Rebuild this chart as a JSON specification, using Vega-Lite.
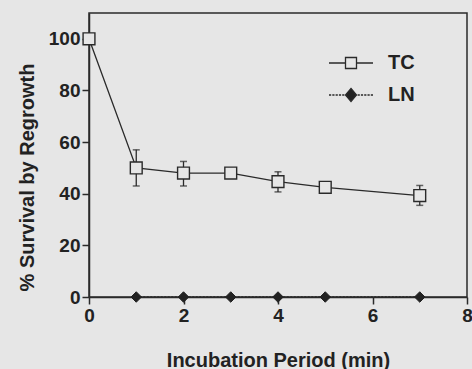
{
  "$schema": "https://vega.github.io/schema/vega-lite/v6.json",
  "autosize": "none",
  "width": 378,
  "height": 284,
  "padding": {"left": 89, "top": 13, "right": 5, "bottom": 72},
  "background": "#e6e6e6",
  "config": {
    "view": {"stroke": "#2a2a2a", "strokeWidth": 1.5},
    "font": "Liberation Sans",
    "axis": {
      "domainColor": "#2a2a2a", "domainWidth": 1.5,
      "tickColor": "#2a2a2a", "tickWidth": 1.5, "tickSize": 7,
      "labelFont": "Liberation Sans", "labelFontWeight": "bold", "labelFontSize": 19, "labelColor": "#222",
      "labelPadding": 2, "labelFlush": false,
      "titleFont": "Liberation Sans", "titleFontWeight": "bold", "titleFontSize": 20, "titleColor": "#222",
      "grid": false
    }
  },
  "datasets": {
    "tc": [
      {"t": 0, "series": "TC", "mean": 100},
      {"t": 1, "series": "TC", "mean": 50, "lo": 43, "hi": 57},
      {"t": 2, "series": "TC", "mean": 48, "lo": 43, "hi": 52.5},
      {"t": 3, "series": "TC", "mean": 48},
      {"t": 4, "series": "TC", "mean": 44.7, "lo": 40.7, "hi": 48.5},
      {"t": 5, "series": "TC", "mean": 42.5},
      {"t": 7, "series": "TC", "mean": 39.3, "lo": 35.5, "hi": 43.2}
    ],
    "ln": [
      {"t": 1, "series": "LN", "mean": 0},
      {"t": 2, "series": "LN", "mean": 0},
      {"t": 3, "series": "LN", "mean": 0},
      {"t": 4, "series": "LN", "mean": 0},
      {"t": 5, "series": "LN", "mean": 0},
      {"t": 7, "series": "LN", "mean": 0}
    ],
    "legend": [
      {"series": "TC"},
      {"series": "LN"}
    ]
  },
  "encoding": {
    "x": {"field": "t", "type": "quantitative",
      "scale": {"domain": [0, 8], "nice": false},
      "axis": {"values": [0, 2, 4, 6, 8], "title": "Incubation Period (min)",
        "titleY": 69, "titleBaseline": "alphabetic"}},
    "y": {"field": "mean", "type": "quantitative",
      "scale": {"domain": [0, 110], "nice": false},
      "axis": {"values": [0, 20, 40, 60, 80, 100], "title": "% Survival by Regrowth",
        "titleX": -56, "titleY": 164, "titleAngle": -90, "titleBaseline": "alphabetic", "titleAlign": "center"}}
  },
  "layer": [
    {
      "data": {"name": "tc"},
      "mark": {"type": "rule", "color": "#2a2a2a", "strokeWidth": 1.3},
      "encoding": {"y": {"field": "lo", "type": "quantitative"}, "y2": {"field": "hi"}}
    },
    {
      "data": {"name": "tc"},
      "mark": {"type": "tick", "orient": "horizontal", "color": "#2a2a2a", "size": 7, "thickness": 1.5},
      "encoding": {"y": {"field": "lo", "type": "quantitative"}}
    },
    {
      "data": {"name": "tc"},
      "mark": {"type": "tick", "orient": "horizontal", "color": "#2a2a2a", "size": 7, "thickness": 1.5},
      "encoding": {"y": {"field": "hi", "type": "quantitative"}}
    },
    {
      "data": {"name": "tc"},
      "mark": {"type": "line", "color": "#2a2a2a", "strokeWidth": 1.3}
    },
    {
      "data": {"name": "ln"},
      "mark": {"type": "line", "color": "#2a2a2a", "strokeWidth": 1.3, "strokeDash": [2, 1.5]}
    },
    {
      "data": {"name": "tc"},
      "mark": {"type": "point", "shape": "square", "size": 140, "filled": true, "fill": "#e6e6e6", "stroke": "#2a2a2a", "strokeWidth": 1.4, "opacity": 1}
    },
    {
      "data": {"name": "ln"},
      "mark": {"type": "point", "shape": "diamond", "size": 110, "filled": true, "fill": "#222", "stroke": "#222", "strokeWidth": 1, "opacity": 1}
    },
    {
      "data": {"name": "legend"},
      "mark": {"type": "point", "filled": true, "opacity": 0},
      "encoding": {
        "x": {"datum": 0},
        "y": {"datum": 0},
        "shape": {"field": "series", "type": "nominal",
          "scale": {"domain": ["TC", "LN"], "range": [
            "M-2,0H-0.5M0.5,0H2M-0.5,-0.5H0.5V0.5H-0.5Z",
            "M-2,0H-1.8M-1.7,0H-1.5M-1.4,0H-1.2M-1.1,0H-0.9M-0.8,0H-0.6M0.6,0H0.8M0.9,0H1.1M1.2,0H1.4M1.5,0H1.7M1.8,0H2M0,-0.6L0.5,0L0,0.6L-0.5,0Z"
          ]},
          "legend": {
            "title": null, "orient": "none", "legendX": 250, "legendY": 38,
            "padding": 0, "symbolSize": 484, "rowPadding": 10, "labelOffset": 25,
            "labelFont": "Liberation Sans", "labelFontWeight": "bold", "labelFontSize": 20, "labelColor": "#222",
            "encode": {"symbols": {"update": {"stroke": {"value": "#2a2a2a"}, "strokeWidth": {"value": 1.3}, "opacity": {"value": 1}}}}
          }},
        "fill": {"field": "series", "type": "nominal",
          "scale": {"domain": ["TC", "LN"], "range": ["#e6e6e6", "#222"]},
          "legend": {
            "title": null, "orient": "none", "legendX": 250, "legendY": 38,
            "padding": 0, "symbolSize": 484, "rowPadding": 10, "labelOffset": 25,
            "labelFont": "Liberation Sans", "labelFontWeight": "bold", "labelFontSize": 20, "labelColor": "#222",
            "encode": {"symbols": {"update": {"stroke": {"value": "#2a2a2a"}, "strokeWidth": {"value": 1.3}, "opacity": {"value": 1}}}}
          }}
      }
    }
  ]
}
